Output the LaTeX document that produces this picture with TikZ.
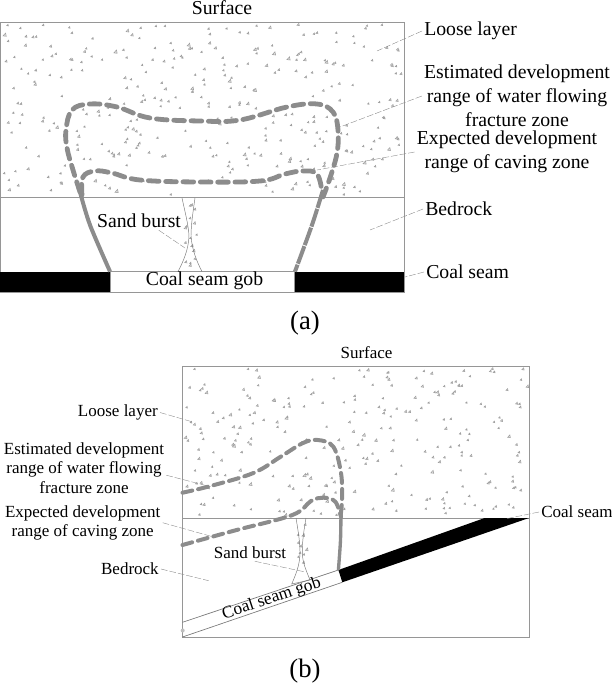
\documentclass[tikz,border=0pt]{standalone}
\usepackage{fontspec}
\setmainfont{Liberation Serif}
\usetikzlibrary{shapes,arrows}
\tikzset{
  frameline/.style={draw={rgb,255:red,150;green,150;blue,150},line width=0.75pt},
  leaderline/.style={draw={rgb,255:red,140;green,140;blue,140},line width=0.3pt,dash pattern=on 5pt off 1.5pt},
  burstline/.style={draw={rgb,255:red,120;green,120;blue,120},line width=0.35pt},
  rangeline/.style={draw={rgb,255:red,140;green,140;blue,140},line width=3.6pt,line cap=round,line join=round,dash pattern=on 8pt off 5pt},
  rangelineb/.style={draw={rgb,255:red,140;green,140;blue,140},line width=3pt,line cap=round,line join=round,dash pattern=on 7.5pt off 4.5pt},
  wallline/.style={draw={rgb,255:red,140;green,140;blue,140},line width=3pt},
  labela/.style={font=\fontsize{14.8}{18}\selectfont,align=center,inner sep=1.5pt},
  labelb/.style={font=\fontsize{12.75}{14.6}\selectfont,align=center,inner sep=1.5pt},
  captionlabel/.style={font=\fontsize{20}{24}\selectfont,inner sep=0pt},
}
% scattered gravel marks: seed, count, left, top, width, height
\newcommand{\gravelfill}[6]{
  \pgfmathsetseed{#1}
  \foreach \i in {1,...,#2}{
    \pgfmathsetmacro{\gravelx}{#3+#5*rnd}
    \pgfmathsetmacro{\gravely}{#4+#6*rnd}
    \pgfmathsetmacro{\gravels}{1.6+1.8*rnd*rnd}
    \draw [draw={rgb,255:red,160;green,160;blue,160},line width=0.4pt,fill={rgb,255:red,225;green,225;blue,225}]
      (\gravelx,\gravely) -- ++(\gravels,0.4) -- ++(-0.2*\gravels,-\gravels) -- cycle ;
  }
}
\begin{document}
\begin{tikzpicture}[x=0.75pt,y=0.75pt,yscale=-1]
\useasboundingbox (0,0) rectangle (611,685);

%Panel a
\gravelfill{11}{330}{3}{25}{398}{170}
%Shape: Rectangle
\draw [frameline] (0.5,22.5) rectangle (404,292);
%Straight Lines
\draw [frameline,line width=0.5pt] (0.5,197.5) -- (404,197.5);
%Shape: Coal seam
\fill [black] (0,271.5) rectangle (110,292);
\fill [black] (294.5,271.5) rectangle (404,292);
\draw [frameline] (110,271.5) rectangle (294.5,292);

\gravelfill{23}{16}{184}{205}{12}{62}
%Sand burst
\draw [burstline] (182,198) .. controls (185,212) and (188.5,225) .. (189,236) .. controls (188.5,250) and (183,262) .. (178,271.5);
\draw [burstline] (195,198) .. controls (193,212) and (191,225) .. (191,236) .. controls (192,250) and (197,262) .. (202,271.5);

%Range lines
\draw [rangeline] plot [smooth,tension=0.65] coordinates {(80,192) (73,170) (67,148) (66,130) (72,110) (90,104) (117,107) (150,118) (200,121) (240,120) (287,107) (317,104) (333,112) (338,130) (337,153) (330,178) (323,197)};
\draw [rangeline] plot [smooth,tension=0.65] coordinates {(82,195) (83,177) (95,171) (112,173) (140,180) (200,182) (260,181) (285,174) (303,171) (317,174) (322,192)};
\draw [wallline] plot [smooth,tension=0.5] coordinates {(80,192) (90,225) (110,271.5)};
\draw [wallline,dash pattern=on 14pt off 0.8pt] plot [smooth,tension=0.5] coordinates {(323,190) (312,225) (295,271.5)};

%Text Node
\node (surfacea) [labela] at (222,7.5) {Surface};
\node (loosea) [labela,anchor=west] at (422,31) {Loose layer};
\node (fracturea) [labela] at (517,96) {Estimated development\\range of water flowing\\fracture zone};
\node (cavinga) [labela] at (507,152) {Expected development\\range of caving zone};
\node (bedrocka) [labela,anchor=west] at (423,209) {Bedrock};
\node (seama) [labela,anchor=west] at (424,272) {Coal seam};
\node (sanda) [labela] at (139,221) {Sand burst};
\node (goba) [labela] at (204.5,281) {Coal seam gob};
\node (capa) [captionlabel] at (305,323) {(a)};

\coordinate (looseaend) at (377,51);
\coordinate (fractureaend) at (340,127);
\coordinate (cavingaend) at (317,170);
\coordinate (bedrockaend) at (370,230);
\coordinate (seamaend) at (405,277);
\coordinate (sandaend) at (185,248);
%Straight Lines
\draw [leaderline] (loosea.west) -- (looseaend);
\draw [leaderline] (fracturea.west) -- (fractureaend);
\draw [leaderline] (cavinga.west) -- (cavingaend);
\draw [leaderline] (bedrocka.west) -- (bedrockaend);
\draw [leaderline] (seama.west) -- (seamaend);
\draw [leaderline] (sanda.-25) -- (sandaend);

%Panel b
\gravelfill{37}{255}{184}{369}{343}{147}
%Shape: Rectangle
\draw [frameline] (182.5,366.5) rectangle (529,637);
%Straight Lines
\draw [frameline,line width=0.5pt] (182.5,518) -- (529,518);
%Shape: Coal seam
\fill [black] (484.6,518) -- (529,518) -- (342.3,582.3) -- (338.4,570) -- cycle;
\draw [burstline,line width=0.5pt] (338.4,570) -- (182.5,622.3);
\draw [burstline,line width=0.5pt] (342.3,582.3) -- (182.5,637);
\fill [black!25] (182.7,630.5) circle (2);

\gravelfill{41}{10}{297}{525}{9}{50}
%Sand burst
\draw [burstline] (296,518) .. controls (298,530) and (300,542) .. (300,552) .. controls (300,566) and (295,576) .. (291.7,584) -- (310,580) .. controls (306,570) and (302.3,562) .. (302.3,552) .. controls (302.3,540) and (304,530) .. (306,518);

%Range lines
\draw [rangelineb] plot [smooth,tension=0.6] coordinates {(182.5,492.7) (210.5,486) (253.4,473) (280.7,456.7) (303,443) (317.7,440) (333.3,446.7) (341,473) (342,500) (340.4,516.7)};
\draw [rangelineb] plot [smooth,tension=0.6] coordinates {(182.5,545) (234,530.7) (292.4,515) (311,501) (323.6,497.7) (335.3,501.7) (341,516.7)};
\draw [wallline,line width=2.5pt] plot [smooth,tension=0.5] coordinates {(341,510) (340.5,540) (338.4,570)};

%Text Node
\node (surfaceb) [labelb] at (366.5,353) {Surface};
\node (looseb) [labelb,anchor=east] at (160,412.5) {Loose layer};
\node (fractureb) [labelb] at (84,468) {Estimated development\\range of water flowing\\fracture zone};
\node (cavingb) [labelb] at (82.7,522.7) {Expected development\\range of caving zone};
\node (bedrockb) [labelb,anchor=east] at (161,569) {Bedrock};
\node (seamb) [labelb,anchor=west] at (539,512) {Coal seam};
\node (sandb) [labelb] at (250,553) {Sand burst};
\node (gobb) [labelb,rotate=18.3,font=\fontsize{13}{15}\selectfont] at (271.7,599) {Coal seam gob};
\node (capb) [captionlabel] at (305,671) {(b)};

\coordinate (loosebend) at (191.8,421.7);
\coordinate (fracturebend) at (210.5,486.7);
\coordinate (cavingbend) at (212.5,536.7);
\coordinate (bedrockbend) at (208.6,580.7);
\coordinate (seambend) at (505,519);
\coordinate (sandbend) at (304,571.7);
%Straight Lines
\draw [leaderline] (looseb.east) -- (loosebend);
\draw [leaderline] (fractureb.-5) -- (fracturebend);
\draw [leaderline] (cavingb.east) -- (cavingbend);
\draw [leaderline] (bedrockb.east) -- (bedrockbend);
\draw [leaderline] (seamb.west) -- (seambend);
\draw [leaderline] (sandb.-60) -- (sandbend);
\end{tikzpicture}
\end{document}
